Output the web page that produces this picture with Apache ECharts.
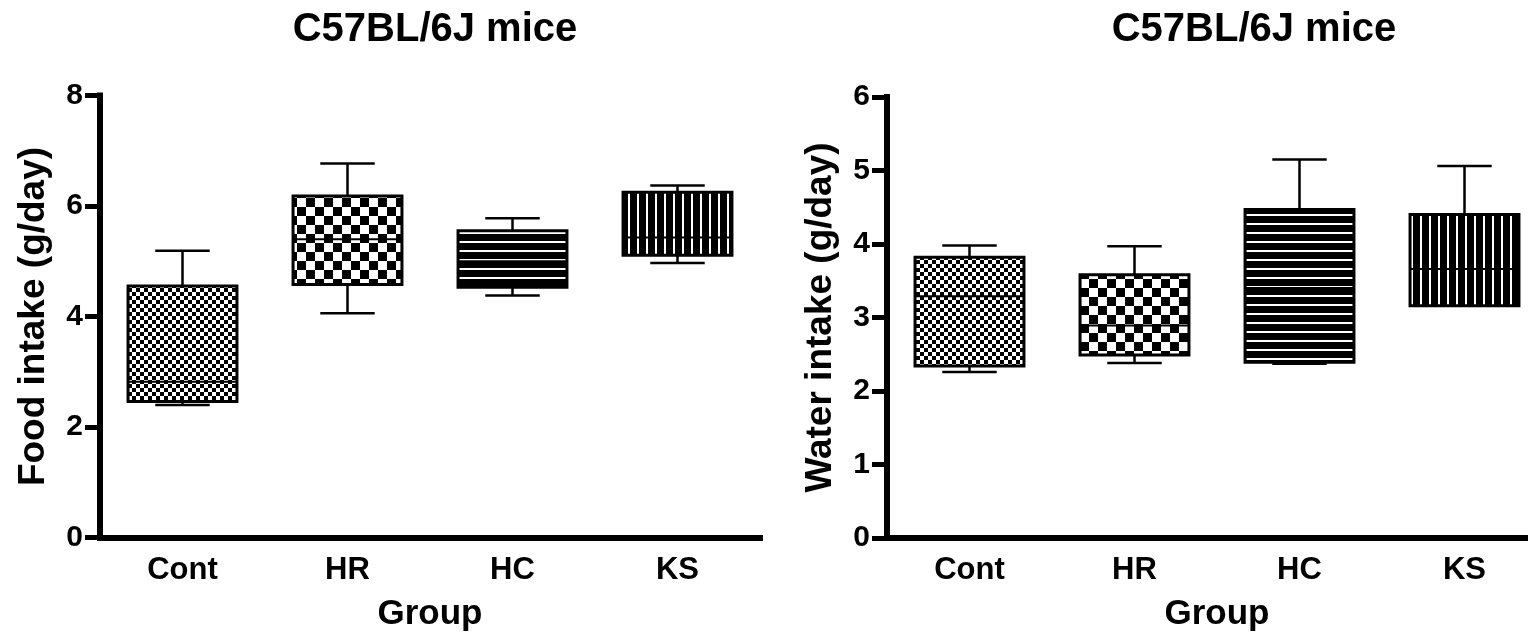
<!DOCTYPE html>
<html>
<head>
<meta charset="utf-8">
<script src="https://cdn.jsdelivr.net/npm/echarts@6/dist/echarts.min.js"></script>
<style>
html,body{margin:0;padding:0;background:#fff;}
#chart{width:1528px;height:634px;}
</style>
</head>
<body>
<div id="chart"></div>
<script>
// ---- data ----
const groups = ['Cont', 'HR', 'HC', 'KS'];
const foodMin    = [2.40, 4.06, 4.38, 4.97];
const foodQ1     = [2.46, 4.58, 4.53, 5.11];
const foodMedian = [2.82, 5.40, 5.00, 5.43];
const foodQ3     = [4.55, 6.18, 5.55, 6.25];
const foodMax    = [5.19, 6.77, 5.78, 6.37];
const waterMin    = [2.26, 2.38, 2.37, 3.16];
const waterQ1     = [2.34, 2.49, 2.39, 3.16];
const waterMedian = [3.29, 2.89, 3.40, 3.66];
const waterQ3     = [3.82, 3.58, 4.47, 4.40];
const waterMax    = [3.98, 3.97, 5.15, 5.06];
const foodTicks  = {min: 0, max: 8, interval: 2};
const waterTicks = {min: 0, max: 6, interval: 1};

const FONT = "'Liberation Sans', Arial, Helvetica, sans-serif";

// ---- fill patterns ----
function makeCanvas(w, h, draw) {
  const c = document.createElement('canvas');
  c.width = w; c.height = h;
  const ctx = c.getContext('2d');
  ctx.fillStyle = '#fff'; ctx.fillRect(0, 0, w, h);
  ctx.fillStyle = '#000';
  draw(ctx);
  return c;
}
const fineChecker = makeCanvas(8, 8, ctx => { ctx.fillRect(0,0,4,4); ctx.fillRect(4,4,4,4); });
const bigChecker = makeCanvas(18, 18, ctx => { ctx.fillRect(0,0,9,9); ctx.fillRect(9,9,9,9); });
const hStripes = makeCanvas(9, 9, ctx => { ctx.fillRect(0,0,9,7); });
const vStripes = makeCanvas(9, 9, ctx => { ctx.fillRect(0,0,7,9); });
const patterns = [fineChecker, bigChecker, hStripes, vStripes].map(img => ({image: img, repeat: 'repeat'}));

function buildData(mn, q1, md, q3, mx) {
  return groups.map((g, i) => [i, mn[i], q1[i], md[i], q3[i], mx[i]]);
}

function renderBox(params, api) {
  const i = api.value(0);
  const x = api.coord([i, 0])[0];
  const yMin = api.coord([i, api.value(1)])[1];
  const yQ1 = api.coord([i, api.value(2)])[1];
  const yMed = api.coord([i, api.value(3)])[1];
  const yQ3 = api.coord([i, api.value(4)])[1];
  const yMax = api.coord([i, api.value(5)])[1];
  const bw = api.size([1, 0])[0] * 0.66;
  const cap = bw / 4;
  const ls = {stroke: '#000', lineWidth: 2.5};
  return {
    type: 'group',
    children: [
      {type: 'line', shape: {x1: x, y1: yQ3, x2: x, y2: yMax}, style: ls},
      {type: 'line', shape: {x1: x - cap, y1: yMax, x2: x + cap, y2: yMax}, style: ls},
      {type: 'line', shape: {x1: x, y1: yQ1, x2: x, y2: yMin}, style: ls},
      {type: 'line', shape: {x1: x - cap, y1: yMin, x2: x + cap, y2: yMin}, style: ls},
      {type: 'rect', shape: {x: x - bw / 2, y: yQ3, width: bw, height: yQ1 - yQ3},
        style: {fill: patterns[i], stroke: '#000', lineWidth: 3}},
      {type: 'line', shape: {x1: x - bw / 2, y1: yMed, x2: x + bw / 2, y2: yMed}, style: {stroke: '#000', lineWidth: 2}}
    ]
  };
}

function xAxisCfg(gi) {
  return {
    type: 'category', gridIndex: gi, data: groups,
    axisLine: {lineStyle: {color: '#000', width: 6, cap: 'square'}},
    axisTick: {show: false},
    axisLabel: {color: '#000', fontSize: 31, fontWeight: 'bold', fontFamily: FONT, margin: 17},
    name: 'Group', nameLocation: 'middle', nameGap: 59,
    nameTextStyle: {color: '#000', fontSize: 35, fontWeight: 'bold', fontFamily: FONT}
  };
}
function yAxisCfg(gi, ticks, name) {
  return {
    type: 'value', gridIndex: gi, min: ticks.min, max: ticks.max, interval: ticks.interval,
    axisLine: {show: true, lineStyle: {color: '#000', width: 6, cap: 'square'}},
    axisTick: {show: true, length: 15, lineStyle: {color: '#000', width: 5}},
    splitLine: {show: false},
    axisLabel: {color: '#000', fontSize: 30, fontWeight: 'bold', fontFamily: FONT, margin: 17},
    name: name, nameLocation: 'middle', nameGap: 48,
    nameTextStyle: {color: '#000', fontSize: 37, fontWeight: 'bold', fontFamily: FONT}
  };
}

const chart = echarts.init(document.getElementById('chart'));
chart.setOption({
  animation: false,
  backgroundColor: '#fff',
  title: [
    {text: 'C57BL/6J mice', left: 430, top: 5, textAlign: 'center',
     textStyle: {color: '#000', fontSize: 40, fontWeight: 'bold', fontFamily: FONT}},
    {text: 'C57BL/6J mice', left: 1249, top: 5, textAlign: 'center',
     textStyle: {color: '#000', fontSize: 40, fontWeight: 'bold', fontFamily: FONT}}
  ],
  grid: [
    {left: 100, top: 95.5, width: 660, height: 442, outerBoundsMode: 'none', containLabel: false},
    {left: 887, top: 97, width: 660, height: 441, outerBoundsMode: 'none', containLabel: false}
  ],
  xAxis: [xAxisCfg(0), xAxisCfg(1)],
  yAxis: [yAxisCfg(0, foodTicks, 'Food intake (g/day)'), yAxisCfg(1, waterTicks, 'Water intake (g/day)')],
  series: [
    {type: 'custom', xAxisIndex: 0, yAxisIndex: 0, renderItem: renderBox,
     data: buildData(foodMin, foodQ1, foodMedian, foodQ3, foodMax), encode: {x: 0, y: [1, 2, 3, 4, 5]}},
    {type: 'custom', xAxisIndex: 1, yAxisIndex: 1, renderItem: renderBox,
     data: buildData(waterMin, waterQ1, waterMedian, waterQ3, waterMax), encode: {x: 0, y: [1, 2, 3, 4, 5]}}
  ]
});
</script>
</body>
</html>
